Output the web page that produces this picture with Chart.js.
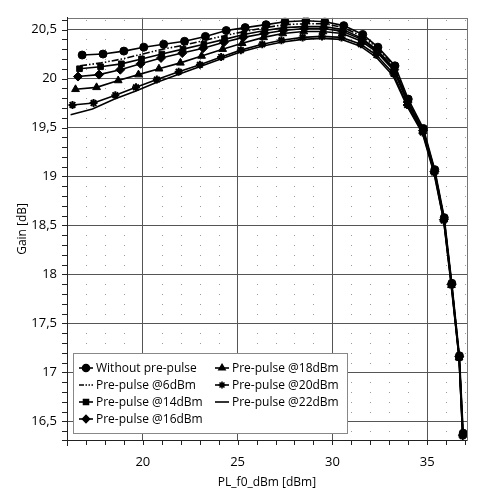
<!DOCTYPE html>
<html><head><meta charset="utf-8">
<script src="https://cdn.jsdelivr.net/npm/chart.js@4.4.1/dist/chart.umd.min.js"></script>
<style>html,body{margin:0;padding:0;background:#fff}canvas{display:block}</style>
</head><body>
<canvas id="c" width="477" height="495"></canvas>
<script>
// ---- data ----
const seriesLabels = ["Without pre-pulse","Pre-pulse @6dBm","Pre-pulse @14dBm","Pre-pulse @16dBm","Pre-pulse @18dBm","Pre-pulse @20dBm","Pre-pulse @22dBm"];

const xWithout = [16.8,17.9,19.0,20.05,21.1,22.2,23.3,24.4,25.4,26.5,27.5,28.6,29.6,30.6,31.6,32.4,33.3,34.0,34.8,35.4,35.9,36.3,36.7,36.9];
const gWithout = [20.24,20.25,20.28,20.32,20.35,20.38,20.43,20.49,20.52,20.55,20.58,20.59,20.58,20.54,20.45,20.32,20.13,19.79,19.49,19.07,18.58,17.91,17.17,16.38];

const x6 = [16.69,17.81,18.92,19.98,21.05,22.16,23.26,24.35,25.36,26.47,27.47,28.57,29.58,30.58,31.58,32.39,33.29,33.99,34.79,35.39,35.89,36.29,36.69,36.89];
const g6 = [20.13,20.16,20.20,20.25,20.30,20.34,20.39,20.44,20.48,20.52,20.55,20.56,20.56,20.52,20.43,20.31,20.12,19.78,19.48,19.06,18.57,17.90,17.16,16.37];

const x14 = [16.66,17.77,18.87,19.93,21.00,22.12,23.22,24.31,25.33,26.44,27.44,28.54,29.55,30.56,31.56,32.37,33.27,33.98,34.78,35.39,35.89,36.29,36.69,36.89];
const g14 = [20.10,20.12,20.15,20.20,20.25,20.30,20.35,20.40,20.45,20.49,20.52,20.53,20.53,20.50,20.41,20.29,20.10,19.77,19.47,19.06,18.57,17.90,17.16,16.37];

const x16 = [16.58,17.69,18.81,19.88,20.96,22.08,23.18,24.28,25.30,26.41,27.41,28.52,29.53,30.54,31.55,32.36,33.26,33.97,34.78,35.38,35.88,36.29,36.69,36.88];
const g16 = [20.02,20.04,20.09,20.15,20.21,20.26,20.31,20.37,20.42,20.46,20.49,20.51,20.51,20.48,20.40,20.28,20.09,19.76,19.47,19.05,18.56,17.90,17.16,16.36];

const x18 = [16.45,17.56,18.70,19.77,20.85,21.98,23.10,24.21,25.24,26.37,27.38,28.49,29.50,30.52,31.53,32.35,33.25,33.96,34.77,35.38,35.88,36.28,36.68,36.88];
const g18 = [19.89,19.91,19.98,20.04,20.10,20.16,20.23,20.30,20.36,20.42,20.46,20.48,20.48,20.46,20.38,20.27,20.08,19.75,19.46,19.05,18.56,17.89,17.15,16.36];

const x20 = [16.29,17.40,18.55,19.64,20.74,21.89,23.01,24.13,25.17,26.30,27.31,28.43,29.45,30.48,31.50,32.32,33.22,33.94,34.76,35.37,35.87,36.28,36.68,36.87];
const g20 = [19.73,19.75,19.83,19.91,19.99,20.07,20.14,20.22,20.29,20.35,20.39,20.42,20.43,20.42,20.35,20.24,20.05,19.73,19.45,19.04,18.55,17.89,17.15,16.35];

const x22 = [16.19,17.34,18.51,19.60,20.71,21.86,22.99,24.11,25.15,26.28,27.29,28.41,29.43,30.46,31.48,32.30,33.20,33.93,34.75,35.36,35.87,36.27,36.68,36.87];
const g22 = [19.63,19.69,19.79,19.87,19.96,20.04,20.12,20.20,20.27,20.33,20.37,20.40,20.41,20.40,20.33,20.22,20.03,19.72,19.44,19.03,18.55,17.88,17.15,16.35];

const yTickStep = 0.5;
const xTickStep = 5;

// ---- build datasets ----
function pts(xs, ys){ return xs.map((x,i)=>({x:x, y:ys[i]})); }
const FONT = "'Open Sans', 'DejaVu Sans', sans-serif";

const styles = [
  {pointStyle:'circle', pointRadius:4, dash:[]},
  {pointStyle:false, pointRadius:0, dash:[7,2,1.5,2,1.5,2]},
  {pointStyle:'rect', pointRadius:4, dash:[]},
  {pointStyle:'rectRot', pointRadius:4.5, dash:[]},
  {pointStyle:'triangle', pointRadius:4.5, dash:[]},
  {pointStyle:'star', pointRadius:4, dash:[]},
  {pointStyle:false, pointRadius:0, dash:[]}
];
const allX = [xWithout,x6,x14,x16,x18,x20,x22];
const allG = [gWithout,g6,g14,g16,g18,g20,g22];

const datasets = seriesLabels.map((lab,i)=>({
  label: lab,
  data: pts(allX[i], allG[i]),
  borderColor:'#000',
  backgroundColor:'#000',
  borderWidth:1.6,
  borderDash: styles[i].dash,
  pointStyle: styles[i].pointStyle || 'circle',
  pointRadius: styles[i].pointRadius,
  pointBorderWidth: styles[i].pointStyle==='star' ? 2 : 1,
  pointBackgroundColor:'#000',
  pointBorderColor:'#000',
  tension:0
}));

const decor = {
  id:'decor',
  beforeDatasetsDraw(chart){
    const {ctx, chartArea:a, scales:{x, y}} = chart;
    ctx.save();
    ctx.fillStyle = '#9a9a9a';
    for (let xv = Math.ceil(x.min); xv <= x.max; xv += 1) {
      if (xv % xTickStep === 0) continue;
      const px = Math.round(x.getPixelForValue(xv));
      for (let k = Math.ceil(y.min*10); k <= y.max*10; k++) {
        if (k % 5 === 0) continue;
        const py = Math.round(y.getPixelForValue(k/10));
        ctx.fillRect(px, py, 1, 1);
      }
    }
    ctx.restore();
  },
  afterDraw(chart){
    const {ctx, chartArea:a, scales:{x, y}} = chart;
    ctx.save();
    // frame
    ctx.strokeStyle = '#777';
    ctx.lineWidth = 1;
    ctx.strokeRect(Math.round(a.left)+0.5, Math.round(a.top)+0.5, Math.round(a.right-a.left), Math.round(a.bottom-a.top));
    ctx.strokeStyle = '#222';
    ctx.beginPath();
    ctx.moveTo(Math.round(a.left)+0.5, a.top); ctx.lineTo(Math.round(a.left)+0.5, a.bottom+6);
    ctx.moveTo(a.left-5, Math.round(a.bottom)+0.5); ctx.lineTo(a.right, Math.round(a.bottom)+0.5);
    // minor ticks y
    for (let k = Math.ceil(y.min*10); k <= y.max*10; k++) {
      const py = Math.round(y.getPixelForValue(k/10))+0.5;
      ctx.moveTo(a.left-5, py); ctx.lineTo(a.left, py);
    }
    for (let xv = Math.ceil(x.min); xv <= x.max; xv += 1) {
      const px = Math.round(x.getPixelForValue(xv))+0.5;
      ctx.moveTo(px, a.bottom); ctx.lineTo(px, a.bottom+5);
    }
    ctx.stroke();

    // legend
    const bx = 73, by = 353, bw = 274, bh = 80;
    ctx.fillStyle = '#fff';
    ctx.fillRect(bx, by, bw, bh);
    ctx.strokeStyle = '#888';
    ctx.strokeRect(bx+0.5, by+0.5, bw, bh);
    const cols = [86, 222];
    const rows = [368, 385, 402, 419];
    const place = [[0,0],[0,1],[0,2],[0,3],[1,0],[1,1],[1,2]];
    ctx.font = "12px " + FONT;
    ctx.textBaseline = 'middle';
    ctx.textAlign = 'left';
    seriesLabels.forEach((lab,i)=>{
      const cx = cols[place[i][0]], cy = rows[place[i][1]];
      ctx.strokeStyle = '#000'; ctx.fillStyle = '#000';
      ctx.lineWidth = 1.6;
      ctx.setLineDash(i===1 ? [5,1.5,1.5,1.5,1.5,1.5] : []);
      ctx.beginPath(); ctx.moveTo(cx-7, cy); ctx.lineTo(cx+7, cy); ctx.stroke();
      ctx.setLineDash([]);
      if (styles[i].pointStyle) {
        Chart.helpers.drawPoint(ctx, {pointStyle:styles[i].pointStyle, radius:3.5, borderWidth: styles[i].pointStyle==='star'?2:1, rotation:0}, cx, cy);
      }
      ctx.fillStyle = '#000';
      ctx.fillText(lab, cx+10, cy+0.5);
    });
    ctx.restore();
  }
};

new Chart(document.getElementById('c'), {
  type:'line',
  data:{datasets},
  plugins:[decor],
  options:{
    responsive:false,
    animation:false,
    devicePixelRatio:1,
    layout:{padding:{top:13,right:10,left:0,bottom:0}},
    plugins:{legend:{display:false}, tooltip:{enabled:false}},
    scales:{
      x:{
        type:'linear', min:16, max:37.1,
        ticks:{stepSize:xTickStep, includeBounds:false, color:'#000', font:{family:FONT,size:13}, padding:14, maxRotation:0,
          callback:v=>String(v)},
        grid:{color:'#555', lineWidth:1, drawTicks:false},
        border:{display:true, color:'#222'},
        title:{display:true, text:'PL_f0_dBm [dBm]', color:'#000', font:{family:FONT,size:12}, padding:{top:0,bottom:5}},
        afterFit(s){ s.height = 55; }
      },
      y:{
        type:'linear', min:16.31, max:20.62,
        ticks:{stepSize:yTickStep, includeBounds:false, color:'#000', font:{family:FONT,size:13}, padding:10,
          callback:v=>(Math.round(v*10)/10).toString().replace('.', ',')},
        grid:{color:'#555', lineWidth:1, drawTicks:false},
        border:{display:true, color:'#222'},
        title:{display:true, text:'Gain [dB]', color:'#000', font:{family:FONT,size:12}, padding:{top:15,bottom:0}},
        afterFit(s){ s.width = 67; }
      }
    }
  }
});
</script>
</body></html>
